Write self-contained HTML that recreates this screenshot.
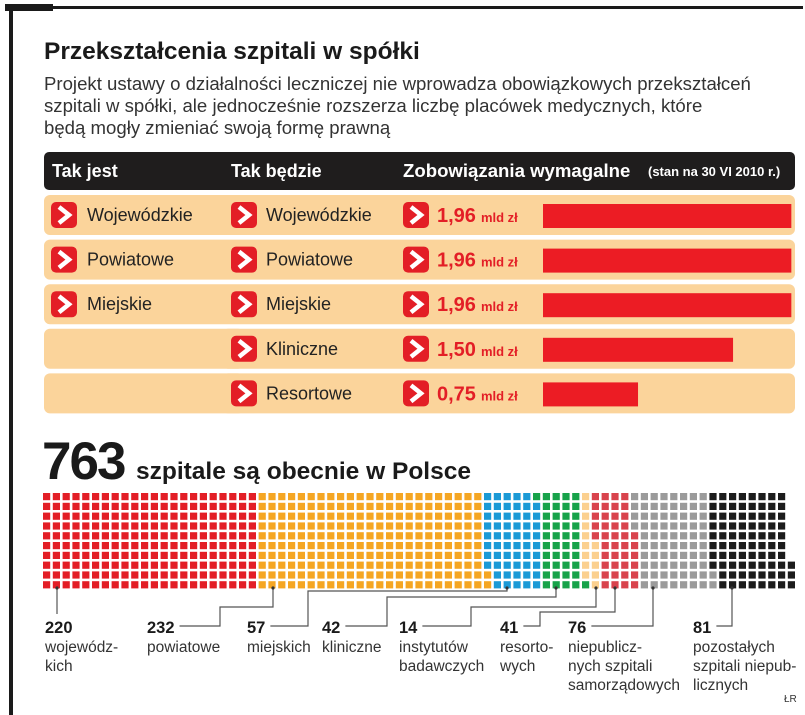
<!DOCTYPE html>
<html><head><meta charset="utf-8">
<style>
body{margin:0;background:#fff;width:805px;height:715px;overflow:hidden;font-family:"Liberation Sans",sans-serif;}
svg{display:block}
</style></head>
<body>
<svg id="root" width="805" height="715" viewBox="0 0 805 715" xmlns="http://www.w3.org/2000/svg" font-family="Liberation Sans, sans-serif">
  <rect x="5" y="6" width="798" height="3" fill="#1a1a1a"/>
  <rect x="5" y="4" width="48" height="7" fill="#1a1a1a"/>
  <rect x="9" y="4" width="4" height="711" fill="#1a1a1a"/>
  <text x="44" y="59" font-size="24.5" font-weight="bold" fill="#1a1a1a">Przekształcenia szpitali w spółki</text>
  <g font-size="18.6" fill="#333">
    <text x="44" y="90">Projekt ustawy o działalności leczniczej nie wprowadza obowiązkowych przekształceń</text>
    <text x="44" y="112">szpitali w spółki, ale jednocześnie rozszerza liczbę placówek medycznych, które</text>
    <text x="44" y="134">będą mogły zmieniać swoją formę prawną</text>
  </g>
  <g id="table">
    <rect x="44" y="152" width="751" height="38" rx="5" fill="#1f1d1d"/>
    <text x="52" y="177" font-size="18" font-weight="bold" fill="#fff">Tak jest</text>
    <text x="231" y="177" font-size="18" font-weight="bold" fill="#fff">Tak będzie</text>
    <text x="403" y="177" font-size="18.6" font-weight="bold" fill="#fff">Zobowiązania wymagalne</text>
    <text x="648" y="176" font-size="13" font-weight="bold" fill="#fff">(stan na 30 VI 2010 r.)</text>
  </g>
  <g id="waffle">
    <text x="42" y="479" font-size="53" font-weight="bold" fill="#1a1a1a" letter-spacing="-2">763</text>
    <text x="136" y="479" font-size="24.5" font-weight="bold" fill="#1a1a1a">szpitale są obecnie w Polsce</text>
  </g>
  <g id="labels"></g>
  <text x="784" y="702" font-size="10" fill="#333">ŁR</text>
</svg>
<script>
const rowsNow = ["Wojewódzkie","Powiatowe","Miejskie","",""];
const rowsFuture = ["Wojewódzkie","Powiatowe","Miejskie","Kliniczne","Resortowe"];
const debts = [1.96,1.96,1.96,1.50,0.75];
const debtLabels = ["1,96","1,96","1,96","1,50","0,75"];

const counts = [220,232,57,42,14,41,76,81];
const catNums = ["220","232","57","42","14","41","76","81"];
const catLabels = [["wojewódz-","kich"],["powiatowe"],["miejskich"],["kliniczne"],["instytutów","badawczych"],["resorto-","wych"],["niepublicz-","nych szpitali","samorządowych"],["pozostałych","szpitali niepub-","licznych"]];
const catColors = ["#e31e26","#f5a623","#1b9ad6","#17a34a","#fbd08f","#d9434d","#9b9b9b","#1c1c1c"];

const NS="http://www.w3.org/2000/svg";
function mk(tag,attrs,parent){const e=document.createElementNS(NS,tag);for(const k in attrs)e.setAttribute(k,attrs[k]);parent.appendChild(e);return e;}

const table=document.getElementById('table');
const barX0=543, barScale=126.7;
function barW(v){return v*barScale;}
function chevron(x,y,parent){
  const g=mk('g',{},parent);
  
  
  mk('rect',{x:x,y:y,width:26,height:26,rx:5,fill:'#e31e26'},g);
  mk('path',{d:`M${x+8} ${y+5} L${x+18} ${y+13} L${x+8} ${y+21}`,fill:'none',stroke:'#fff','stroke-width':4.5},g);
}
for(let i=0;i<rowsFuture.length;i++){
  const y=195+i*44.6;
  const row=mk('g',{},table);
  
  
  mk('rect',{x:rowsNow[i]?44:222,y:y,width:rowsNow[i]?751:573,height:40,rx:6,fill:'#fbd49b'},row);
  if(!rowsNow[i]) mk('rect',{x:44,y:y,width:200,height:40,rx:6,fill:'#fbd49b'},row);
  if(rowsNow[i]){chevron(51,y+7,row);const t=mk('text',{x:87,y:y+26,'font-size':18,fill:'#222'},row);t.textContent=rowsNow[i];}
  chevron(231,y+7,row);
  const t2=mk('text',{x:266,y:y+26,'font-size':18,fill:'#222'},row);t2.textContent=rowsFuture[i];
  chevron(403,y+7,row);
  const v=mk('text',{x:437,y:y+27,'font-size':20,'font-weight':'bold',fill:'#e31e26'},row);
  v.textContent=debtLabels[i];
  const u=mk('tspan',{'font-size':13,dx:5},v);u.textContent='mld zł';
  const b=mk('rect',{x:barX0,y:y+9,width:barW(debts[i]),height:24,fill:'#ec1c24'},row);
  
  
}

const waffle=document.getElementById('waffle');
const wx0=43, wy0=493, pitch=9.8, cell=7.2, nRows=10;
let idx=0;
counts.forEach((n,c)=>{
  for(let k=0;k<n;k++){
    const col=Math.floor(idx/nRows), r=nRows-1-(idx%nRows);
    const sq=mk('rect',{x:wx0+col*pitch,y:wy0+r*pitch,width:cell,height:cell,fill:catColors[c]},waffle);
    
    
    idx++;
  }
});

const labels=document.getElementById('labels');
const labelX=[45,147,247,322,399,500,568,693];
const lineBend=[null,[220,607],[308,591],[387,597],[471,607],[540,612],null,null];
const anchorX=[57,273,507,556,596,615,653,732];
for(let c=0;c<counts.length;c++){
  const g=mk('g',{},labels);
  
  
  const n=mk('text',{x:labelX[c],y:633,'font-size':16.5,'font-weight':'bold',fill:'#1a1a1a'},g);
  n.textContent=catNums[c];
  const endX=labelX[c]+n.getComputedTextLength()+5;
  const ax=anchorX[c], top=588;
  let pts;
  if(c===0) pts=`${ax},${top} ${ax},614`;
  else if(lineBend[c]){
    const [bx,by]=lineBend[c];
    pts=`${ax},${top} ${ax},${by} ${bx},${by} ${bx},626 ${endX},626`;
  } else pts=`${ax},${top} ${ax},626 ${endX},626`;
  const pl=mk('polyline',{points:pts,fill:'none',stroke:'#555','stroke-width':1.2},g);
  
  
  mk('circle',{cx:ax,cy:top,r:1.6,fill:'#333'},g);
  catLabels[c].forEach((l,j)=>{
    const t=mk('text',{x:labelX[c],y:652+j*19,'font-size':15.5,fill:'#333'},g);
    t.textContent=l;
  });
}
</script>
</body></html>
